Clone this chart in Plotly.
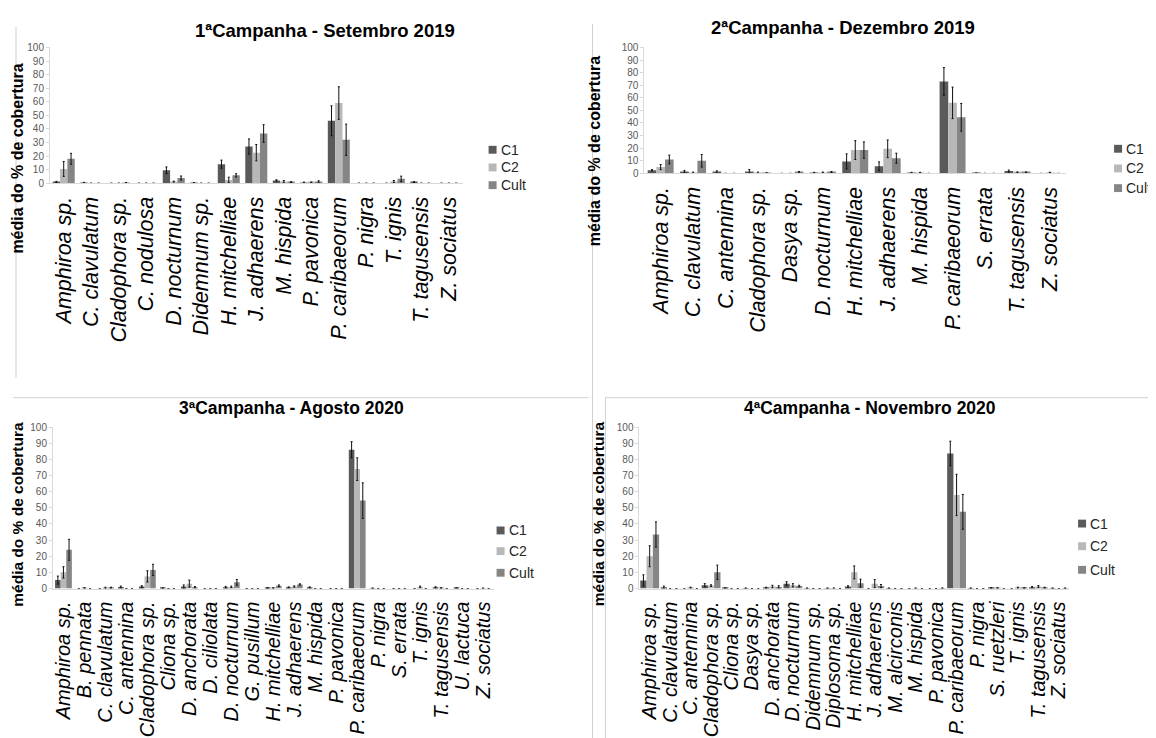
import plotly.graph_objects as go

W, H = 1156, 738

# ---------------- data ----------------
titles = ["1ªCampanha - Setembro 2019", "2ªCampanha - Dezembro 2019",
          "3ªCampanha - Agosto 2020", "4ªCampanha - Novembro 2020"]
series_names = ["C1", "C2", "Cult"]

cats1 = ["Amphiroa sp.", "C. clavulatum", "Cladophora sp.", "C. nodulosa", "D. nocturnum",
         "Didemnum sp.", "H. mitchelliae", "J. adhaerens", "M. hispida", "P. pavonica",
         "P. caribaeorum", "P. nigra", "T. ignis", "T. tagusensis", "Z. sociatus"]
c1_1 = [0.8, 0.3, 0, 0, 9.5, 0.3, 14, 27, 2, 0.5, 46, 0, 0, 0.8, 0]
c2_1 = [10.5, 0, 0, 0, 1.2, 0, 2.4, 22.5, 1.2, 0.6, 59, 0, 1.2, 0, 0]
cu_1 = [18, 0, 0.3, 0, 3.8, 0, 5.8, 36.6, 0.8, 1, 32, 0, 3.2, 0, 0]
e1_1 = [0.5, 0.3, 0, 0, 2.5, 0, 3, 5.6, 0.5, 0.3, 11, 0, 0, 0.3, 0]
e2_1 = [5.5, 0, 0, 0, 0.3, 0, 2, 6, 0.8, 0.3, 12, 0, 0.8, 0, 0]
eu_1 = [4, 0, 0.2, 0, 1.5, 0, 1.2, 6.5, 0.3, 0.8, 11.5, 0, 2, 0, 0]

cats2 = ["Amphiroa sp.", "C. clavulatum", "C. antennina", "Cladophora sp.", "Dasya sp.",
         "D. nocturnum", "H. mitchelliae", "J. adhaerens", "M. hispida", "P. caribaeorum",
         "S. errata", "T. tagusensis", "Z. sociatus"]
c1_2 = [2.5, 1.5, 1, 1.5, 0, 0.5, 9.5, 5.6, 0.5, 73, 0.2, 1.8, 0]
c2_2 = [5, 0.5, 0, 0.5, 0, 0.7, 18.5, 19.5, 0.5, 56, 0, 0.8, 0.7]
cu_2 = [11, 10, 0, 0.3, 1.2, 1, 18.5, 12, 0, 44.5, 0, 0.8, 0]
e1_2 = [0.5, 0.8, 1, 1.5, 0, 0.3, 6, 3.5, 0.3, 11, 0, 0.8, 0]
e2_2 = [2, 0.5, 0, 0.5, 0, 0.3, 7.5, 7, 0.3, 12.5, 0, 0.3, 0.2]
eu_2 = [3.5, 5, 0, 0.2, 0.3, 0.5, 6.5, 4, 0, 11, 0, 0.3, 0]

cats3 = ["Amphiroa sp.", "B. pennata", "C. clavulatum", "C. antennina", "Cladophora sp.",
         "Cliona sp.", "D. anchorata", "D. ciliolata", "D. nocturnum", "G. pusillum",
         "H. mitchelliae", "J. adhaerens", "M. hispida", "P. pavonica", "P. caribaeorum",
         "P. nigra", "S. errata", "T. ignis", "T. tagusensis", "U. lactuca", "Z. sociatus"]
c1_3 = [5.2, 0, 0, 1, 1.2, 0.3, 1.2, 0, 0.8, 0, 0.3, 0.7, 0.7, 0, 86, 0.2, 0, 0, 0.7, 0.3, 0]
c2_3 = [10, 0.3, 0.3, 0, 7.5, 0, 3, 0, 1, 0, 0.3, 1.2, 0, 0, 74, 0, 0, 1, 0.3, 0, 0.2]
cu_3 = [24, 0, 0.5, 0, 11.5, 0, 0.8, 0, 3.8, 0, 1.7, 2.5, 0, 0, 54.5, 0, 0, 0, 0, 0, 0]
e1_3 = [2.5, 0, 0, 0.5, 0.5, 0, 1, 0, 0.5, 0, 0.2, 0.3, 0.3, 0, 5, 0, 0, 0, 0.4, 0, 0]
e2_3 = [3.5, 0.2, 0.5, 0, 3.5, 0, 2.2, 0, 0.5, 0, 0.2, 0.4, 0, 0, 7, 0, 0, 0.5, 0.2, 0, 0]
eu_3 = [6.5, 0, 0.3, 0, 3.5, 0, 0.4, 0, 1.8, 0, 0.5, 0.4, 0, 0, 11, 0, 0, 0, 0, 0, 0]

cats4 = ["Amphiroa sp.", "C. clavulatum", "C. antennina", "Cladophora sp.", "Cliona sp.",
         "Dasya sp.", "D. anchorata", "D. nocturnum", "Didemnum sp.", "Diplosoma sp.",
         "H. mitchelliae", "J. adhaerens", "M. alcirconis", "M. hispida", "P. pavonica",
         "P. caribaeorum", "P. nigra", "S. ruetzleri", "T. ignis", "T. tagusensis", "Z. sociatus"]
c1_4 = [5, 0.5, 0, 2, 0.3, 0.2, 0.5, 3, 0.2, 0.2, 1.2, 0, 0.2, 0, 0, 83.7, 0.2, 0.3, 0, 0.8, 0.2]
c2_4 = [20, 0, 0.5, 1.8, 0, 0, 1.2, 2, 0, 0.2, 10, 3, 0, 0.2, 0, 58, 0, 0.3, 0.5, 1.2, 0]
cu_4 = [33.5, 0, 0, 10, 0, 0, 1, 1.5, 0, 0, 3.3, 1.5, 0, 0, 0.2, 47.5, 0, 0, 0.3, 0.5, 0.2]
e1_4 = [3.5, 1, 0, 1, 0, 0, 0.3, 1.2, 0, 0, 0.5, 0, 0, 0, 0, 7.6, 0, 0.2, 0, 0.4, 0]
e2_4 = [6.5, 0, 0.3, 0.5, 0, 0, 0.8, 1, 0, 0, 4, 2.5, 0, 0, 0, 12.8, 0, 0.2, 0.3, 0.6, 0]
eu_4 = [7.8, 0, 0, 4.5, 0, 0, 0.7, 0.5, 0, 0, 2.5, 1, 0, 0, 0, 10.8, 0, 0, 0.2, 0.3, 0]

panels = [
    (cats1, [c1_1, c2_1, cu_1], [e1_1, e2_1, eu_1]),
    (cats2, [c1_2, c2_2, cu_2], [e1_2, e2_2, eu_2]),
    (cats3, [c1_3, c2_3, cu_3], [e1_3, e2_3, eu_3]),
    (cats4, [c1_4, c2_4, cu_4], [e1_4, e2_4, eu_4]),
]

# ---------------- styling / layout (pixel boxes) ----------------
colors = ["#5a5a5a", "#b8b8b8", "#858585"]
FONT = "Liberation Sans, Arial, sans-serif"
NARROW = "Liberation Sans Narrow, Arial Narrow, Liberation Sans, sans-serif"

# plot area: x0, x1, ytop(100), ybottom(0)
boxes = [
    (41, 454, 34, 172),
    (636, 1058, 34, 162),
    (44, 485, 420, 584),
    (631, 1061, 420, 584),
]
title_pos = [(316, 17, 18.5), (835, 14, 18.5), (283, 401, 17.5), (862, 401, 17.5)]
ytitle = [(9, 147, 16), (586, 139, 16), (9, 508, 15.5), (590, 508, 15.5)]
label_size = [21.5, 21.5, 20, 20]
group_frac = [0.8, 0.8, 0.8, 0.92]
legend_x = [484, 1110, 492, 1074]
legend_y = [(138, 156, 174), (137, 157, 177), (525, 546, 568), (518, 541, 565)]


def px(x):
    return x / W


def py(y):
    return 1 - y / H


fig = go.Figure()
layout = dict(
    width=W, height=H, margin=dict(l=0, r=0, t=0, b=0),
    paper_bgcolor="white", plot_bgcolor="white",
    barmode="overlay", showlegend=False,
    font=dict(family=FONT, color="#000000"),
)
annotations = []
shapes = []

for i, (cats, vals, errs) in enumerate(panels):
    k = "" if i == 0 else str(i + 1)
    x0, x1, yt, yb = boxes[i]
    bw = group_frac[i] / 3
    for s in range(3):
        fig.add_trace(go.Bar(
            x=cats, y=vals[s], name=series_names[s],
            width=bw, offset=-1.5 * bw + s * bw,
            marker=dict(color=colors[s], line=dict(width=0)),
            error_y=dict(type="data", array=errs[s], visible=True,
                         color="#111111", thickness=1, width=1),
            xaxis="x" + k, yaxis="y" + k, showlegend=False,
        ))
    layout["xaxis" + k] = dict(
        domain=[px(x0), px(x1)], anchor="y" + k, type="category",
        categoryorder="array", categoryarray=cats,
        tickmode="array", tickvals=cats, ticktext=cats,
        tickangle=-90, showgrid=False, showline=True, linecolor="#d9d9d9",
        ticks="", ticklabelstandoff=4,
        tickfont=dict(family=FONT, size=label_size[i], style="italic", color="#000000"),
    )
    layout["yaxis" + k] = dict(
        domain=[py(yb), py(yt)], anchor="x" + k, range=[0, 100],
        tickmode="linear", tick0=0, dtick=10, showgrid=False,
        showline=True, linecolor="#d9d9d9", ticks="outside", ticklen=3,
        tickcolor="#d9d9d9",
        tickfont=dict(family=NARROW, size=10, color="#595959"),
    )
    # legend (marker squares + labels)
    for s in range(3):
        mx, my = legend_x[i], legend_y[i][s]
        shapes.append(dict(type="rect", xref="paper", yref="paper",
                           x0=px(mx - 4), x1=px(mx + 4), y0=py(my + 4), y1=py(my - 4),
                           fillcolor=colors[s], line=dict(width=0)))
        annotations.append(dict(
            text=series_names[s], x=px(mx + 6), y=py(my), xref="paper", yref="paper",
            showarrow=False, xanchor="left", yanchor="middle",
            font=dict(family=FONT, size=14, color="#262626"),
        ))
    tx, ty, ts = title_pos[i]
    annotations.append(dict(
        text="<b>" + titles[i] + "</b>", x=px(tx), y=py(ty), xref="paper", yref="paper",
        showarrow=False, xanchor="center", yanchor="middle",
        font=dict(family=FONT, size=ts, color="#000000"),
    ))
    yx, yc, ys = ytitle[i]
    annotations.append(dict(
        text="<b>média do % de cobertura</b>", x=px(yx), y=py(yc),
        xref="paper", yref="paper", showarrow=False, textangle=-90,
        xanchor="center", yanchor="middle",
        font=dict(family=FONT, size=ys, color="#000000"),
    ))

layout["annotations"] = annotations

line_col = "#d0d0d0"
borders = [
    (7, 13, 7, 370),
    (584, 10, 584, 738),
    (4, 390, 580, 390),
    (597, 390, 597, 738),
    (597, 390, 1156, 390),
]
for (ax0, ay0, ax1, ay1) in borders:
    shapes.append(dict(type="line", xref="paper", yref="paper",
                       x0=px(ax0), x1=px(ax1), y0=py(ay0), y1=py(ay1),
                       line=dict(color=line_col, width=1)))
layout["shapes"] = shapes

fig.update_layout(**layout)
fig.write_html("out.html")
